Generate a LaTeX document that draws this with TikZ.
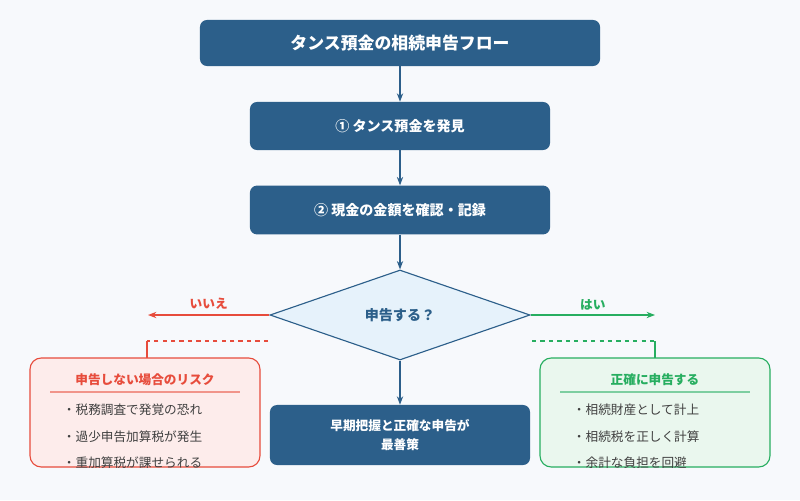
\documentclass[tikz,border=0pt]{standalone}
\usepackage{fontspec}
\setmainfont{Noto Sans CJK JP}
\usetikzlibrary{arrows.meta,shapes.geometric}
\definecolor{navy}{HTML}{2C5F8A}
\definecolor{bgc}{HTML}{F7F9FC}
\definecolor{riskred}{HTML}{E74C3C}
\definecolor{riskbg}{HTML}{FDECEB}
\definecolor{okgreen}{HTML}{27AE60}
\definecolor{okbg}{HTML}{EAF7EE}
\definecolor{qbg}{HTML}{E6F2FB}
\tikzset{
	flowbox/.style={fill=navy, rounded corners=5pt, text=white, font=\bfseries, align=center},
	flow/.style={navy, thick, -{Stealth[length=6pt]}},
	item/.style={anchor=west, font=\small, text=black!75}
}
\begin{document}
\begin{tikzpicture}[x=0.025cm, y=-0.025cm]
	\useasboundingbox[fill=bgc] (0,0) rectangle (800,500);
	%main flow
	\node[flowbox, minimum width=10cm, minimum height=1.15cm, font=\bfseries\large] (title) at (400,43) {タンス預金の相続申告フロー};
	\node[flowbox, minimum width=7.5cm, minimum height=1.2cm] (find) at (400,126) {① タンス預金を発見};
	\node[flowbox, minimum width=7.5cm, minimum height=1.22cm] (check) at (400,210) {② 現金の金額を確認・記録};
	\node[diamond, draw=navy, thick, fill=qbg, aspect=2.9, minimum width=6.5cm, minimum height=2.25cm, inner sep=0pt, text=navy, font=\bfseries] (ask) at (400,315) {申告する？};
	\node[flowbox, minimum width=6.5cm, minimum height=1.5cm, font=\bfseries\small] (best) at (400,435) {早期把握と正確な申告が\\[3pt]最善策};
	\draw[flow] (title) -- (find);
	\draw[flow] (find) -- (check);
	\draw[flow] (check) -- (ask);
	\draw[flow] (ask) -- (best);
	%branches
	\coordinate (noend) at (148,315);
	\coordinate (yesend) at (655,315);
	\draw[riskred, thick, -{Stealth[length=6pt]}] (ask.west) -- (noend) node[midway, above, font=\bfseries\small] {いいえ};
	\draw[okgreen, thick, -{Stealth[length=6pt]}] (ask.east) -- (yesend) node[midway, above, font=\bfseries\small] {はい};
	%risk box
	\draw[riskred, thick, fill=riskbg, rounded corners=8pt] (30,358) rectangle (260,467);
	\node[text=riskred, font=\bfseries\small] (risk) at (145,380) {申告しない場合のリスク};
	\draw[riskred!60, thick] (50,392) -- (240,392);
	\node[item] (r1) at (58,410) {・税務調査で発覚の恐れ};
	\node[item] (r2) at (58,437) {・過少申告加算税が発生};
	\node[item] (r3) at (58,463) {・重加算税が課せられる};
	\draw[riskred, thick, dashed] (268,341) -- (147,341);
	\draw[riskred, thick] (147,341) -- (147,358);
	%ok box
	\draw[okgreen, thick, fill=okbg, rounded corners=8pt] (540,358) rectangle (770,467);
	\node[text=okgreen, font=\bfseries\small] (ok) at (655,380) {正確に申告する};
	\draw[okgreen!60, thick] (560,392) -- (750,392);
	\node[item] (g1) at (568,410) {・相続財産として計上};
	\node[item] (g2) at (568,437) {・相続税を正しく計算};
	\node[item] (g3) at (568,463) {・余計な負担を回避};
	\draw[okgreen, thick, dashed] (532,341) -- (655,341);
	\draw[okgreen, thick] (655,341) -- (655,358);
\end{tikzpicture}
\end{document}
